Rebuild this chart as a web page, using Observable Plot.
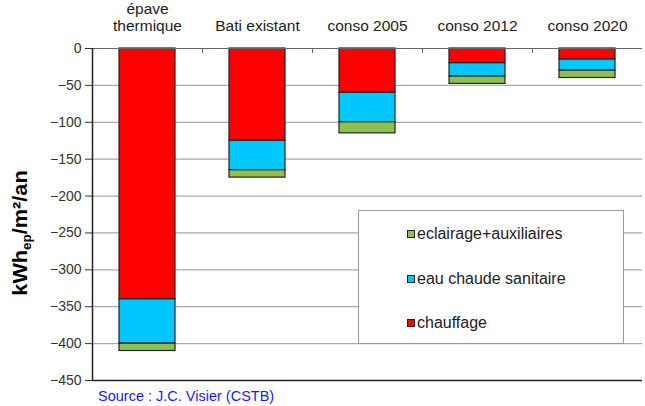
<!DOCTYPE html>
<html><head><meta charset="utf-8">
<script src="https://cdn.jsdelivr.net/npm/d3@7"></script>
<script src="https://cdn.jsdelivr.net/npm/@observablehq/plot@0.6"></script>
<style>
body{margin:0;background:#fff;font-family:"Liberation Sans",Arial,sans-serif;}
#wrap{position:relative;width:645px;height:406px;overflow:hidden}
#legend{position:absolute;left:358px;top:210px;width:266px;height:134px;border:1px solid #999;background:#fff;box-sizing:border-box}
.item{position:absolute;left:48px;font-size:16px;color:#222;line-height:18px;white-space:nowrap}
.sw{display:inline-block;width:6px;height:6px;border:1px solid #222;margin-right:2px;vertical-align:1px}
#ylab{position:absolute;left:20px;top:233px;font-weight:bold;font-size:21px;color:#000;white-space:nowrap}
#ylab sub{font-size:13px;vertical-align:-4px;line-height:0}
#src{position:absolute;left:98px;top:388px;font-size:14.5px;color:#1a1aff}
</style></head>
<body><div id="wrap"></div>
<script>
const categories = ["épave\nthermique", "Bati existant", "conso 2005", "conso 2012", "conso 2020"];
const seriesNames = ["chauffage", "eau chaude sanitaire", "eclairage+auxiliaires"];
const chauffage = [340, 125, 60, 20, 15];
const eauChaude = [60, 40, 40, 18, 15];
const eclairage = [10, 10, 15, 10, 10];
const colors = ["#ff0000", "#00c8ff", "#8fc04f"];
const yTicks = [0, -50, -100, -150, -200, -250, -300, -350, -400, -450];

const rows = [];
categories.forEach((c, i) => {
  rows.push({cat: c, series: seriesNames[0], value: -chauffage[i]});
  rows.push({cat: c, series: seriesNames[1], value: -eauChaude[i]});
  rows.push({cat: c, series: seriesNames[2], value: -eclairage[i]});
});

const W = 645, ML = 92, MR = 3;
const half = (W - ML - MR) / categories.length / 2;

const chart = Plot.plot({
  width: W, height: 406,
  marginTop: 48, marginBottom: 26, marginLeft: ML, marginRight: MR,
  style: {fontFamily: "'Liberation Sans', Arial, sans-serif", fontSize: "14px", color: "#222", background: "#fff"},
  x: {domain: categories, paddingInner: 0.49, paddingOuter: 0.245, axis: null},
  y: {domain: [-450, 0], axis: null},
  color: {domain: seriesNames, range: colors},
  marks: [
    Plot.ruleY(yTicks.filter(d => d !== -450 && d !== 0), {stroke: "#aaa", strokeWidth: 1.2}),
    Plot.axisY({ticks: yTicks, tickSize: 7, tickPadding: 4, fontSize: 14, label: null, stroke: "#333", fill: "#333"}),
    Plot.axisX({anchor: "top", tickSize: 0, tickPadding: 18, fontSize: 15.5, lineHeight: 1.05, label: null, lineAnchor: "bottom", fill: "#222"}),
    Plot.barY(rows, {x: "cat", y: "value", fill: "series", stroke: "#222", strokeWidth: 1.2}),
    Plot.ruleX(categories.slice(1), {x: d => d, dx: -half, y1: 0, y2: 0, insetBottom: -5, stroke: "#666"}),
    Plot.ruleY([0], {stroke: "#666", strokeWidth: 1.2}),
    Plot.ruleY([-450], {stroke: "#222", strokeWidth: 1.5}),
    Plot.ruleX([categories[0]], {x: d => d, dx: -half, y1: -450, y2: 0, stroke: "#222", strokeWidth: 1.5})
  ]
});

const wrap = document.getElementById("wrap");
wrap.appendChild(chart);

const legend = document.createElement("div");
legend.id = "legend";
const legendOrder = [seriesNames[2], seriesNames[1], seriesNames[0]];
const legendTops = [14, 59, 103];
legendOrder.forEach((s, i) => {
  const it = document.createElement("div");
  it.className = "item";
  it.style.top = legendTops[i] + "px";
  const sw = document.createElement("span");
  sw.className = "sw";
  sw.style.background = colors[seriesNames.indexOf(s)];
  it.appendChild(sw);
  it.appendChild(document.createTextNode(s));
  legend.appendChild(it);
});
wrap.appendChild(legend);

const ylab = document.createElement("div");
ylab.id = "ylab";
ylab.innerHTML = "kWh<sub>ep</sub>/m²/an";
wrap.appendChild(ylab);
const lw = ylab.offsetWidth;
const sx = Math.min(1.2, Math.max(0.8, 125 / lw));
ylab.style.transform = `translate(-50%,-50%) rotate(-90deg) scale(${sx},1)`;

const src = document.createElement("div");
src.id = "src";
src.textContent = "Source : J.C. Visier (CSTB)";
wrap.appendChild(src);
</script></body></html>
